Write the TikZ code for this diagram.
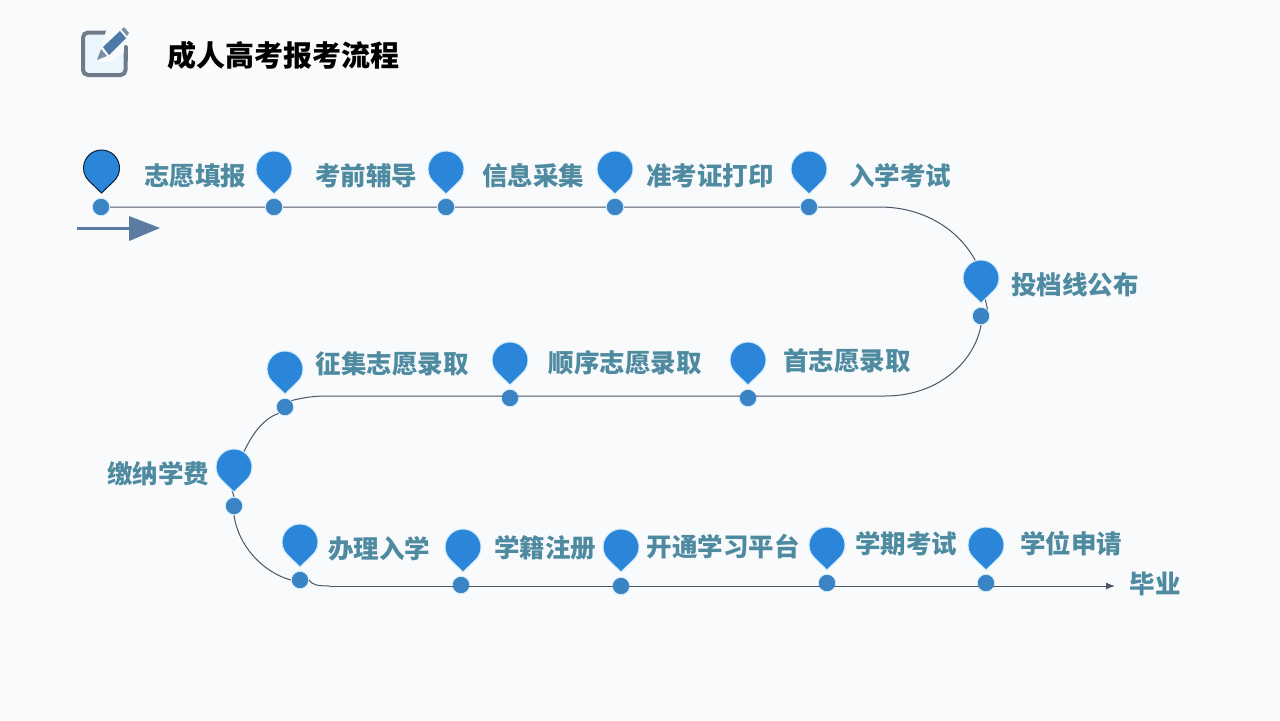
\documentclass[tikz,border=0pt]{standalone}
\usepackage{fontspec}
\usetikzlibrary{arrows.meta}
\newfontfamily\cjk{Noto Sans CJK SC}
\definecolor{bgc}{HTML}{F9FAFC}
\definecolor{pinc}{HTML}{2B86D9}
\definecolor{dotc}{HTML}{3A84C6}
\definecolor{halo}{HTML}{CFEBFA}
\definecolor{linec}{HTML}{4A5663}
\definecolor{labc}{HTML}{4F8BA0}
\definecolor{iconc}{HTML}{6F7B8A}
\definecolor{iconbg}{HTML}{EAF5FC}
\definecolor{penc}{HTML}{4D79A8}
\definecolor{peng}{HTML}{7D8FA5}
\definecolor{arrc}{HTML}{5C7BA1}
\tikzset{
  dotnode/.style={circle,fill=dotc,draw=halo,line width=0.5pt,inner sep=0pt,minimum size=8.6pt},
  lab/.style={font=\cjk\bfseries\fontsize{12.75}{14}\selectfont,text=labc,inner sep=0pt},
  route/.style={draw=linec,line width=0.5pt},
  pics/pin/.style={code={
    \draw[fill=pinc,draw=halo,line width=0.5pt,#1] (0,25) -- (12.5,12.95)
      arc[start angle=46,end angle=-226,radius=18] -- cycle;}},
}
\begin{document}
\begin{tikzpicture}[x=0.5pt,y=-0.5pt]
\useasboundingbox (0,0) rectangle (1280,720);
\fill[bgc] (0,0) rectangle (1280,720);

% icon
\fill[iconbg] (84,33) rectangle (124,74);
\draw[iconc,line width=2pt,line cap=round,rounded corners=2.5pt] (111,32.5) -- (83,32.5) -- (83,75) -- (125.5,75) -- (125.5,48);
\fill[bgc] (108,25) -- (131,25) -- (131,46) -- (112,62) -- (96,62) -- cycle;
\draw[iconc,line width=2pt,line cap=round] (125.5,47) -- (125.5,60);
\fill[penc] (103,47) -- (120,31) -- (126,38) -- (109,55) -- cycle;
\fill[peng] (101,49) -- (107,56) -- (97,60) -- cycle;
\fill[peng] (121.5,29.5) -- (124,27) -- (129,33) -- (127,36) -- cycle;
\node[font=\cjk\bfseries\fontsize{14.5}{16}\selectfont,text=black,inner sep=0pt] (title) at (283,55) {成人高考报考流程};

% start arrow
\coordinate (as) at (77,228);
\coordinate (ae) at (130,228);
\draw[arrc,line width=1.5pt] (as) -- (ae);
\fill[arrc] (129,216) -- (160,228) -- (129,241) -- cycle;

% dots
\node[dotnode] (d1) at (101,207) {};
\node[dotnode] (d2) at (274,207) {};
\node[dotnode] (d3) at (446,207) {};
\node[dotnode] (d4) at (615,207) {};
\node[dotnode] (d5) at (809,207) {};
\node[dotnode] (d6) at (981,316) {};
\node[dotnode] (d7) at (748,398) {};
\node[dotnode] (d8) at (510,398) {};
\node[dotnode] (d9) at (285,407) {};
\node[dotnode] (d10) at (234,506) {};
\node[dotnode] (d11) at (300,580) {};
\node[dotnode] (d12) at (461,585) {};
\node[dotnode] (d13) at (621,586) {};
\node[dotnode] (d14) at (827,583) {};
\node[dotnode] (d15) at (986,583) {};
\coordinate (endp) at (1115,586);
\coordinate (c1) at (880,207);
\coordinate (c2) at (985.5,300);
\coordinate (c3) at (885,396);
\coordinate (c4) at (325,396);
\coordinate (c5) at (232,490);
\coordinate (c6) at (330,586);

% route
\begin{scope}
\path[route] (d1) -- (d2) -- (d3) -- (d4) -- (d5) -- (c1) .. controls (940,207) and (985,250) .. (c2) -- (d6.north east);
\path[route] (d6.south) .. controls (975,360) and (940,396) .. (c3) -- (c4);
\path[route] (d9.north east) .. controls (298,399) and (310,396) .. (c4);
\path[route] (d9.south west) .. controls (258,420) and (240,450) .. (c5) -- (d10.north);
\path[route] (d10.south) .. controls (238,545) and (262,572) .. (d11.west);
\path[route] (d11.east) .. controls (312,585) and (318,586) .. (c6);
\path[route,-{Latex[length=4.5pt,width=3.5pt]}] (c6) -- (endp);
\end{scope}

% dots redrawn above the route
\foreach \n in {d1,d2,d3,d4,d5,d6,d7,d8,d9,d10,d11,d12,d13,d14,d15}
  \fill[dotc] (\n) circle[radius=8];

% pins
\pic at (101.5,168) {pin={draw=black!75!pinc}};
\pic at (274,169) {pin};
\pic at (446,169) {pin};
\pic at (615,169) {pin};
\pic at (809,169) {pin};
\pic at (981,278) {pin};
\pic at (748,360) {pin};
\pic at (510,360) {pin};
\pic at (285,369) {pin};
\pic at (234,467) {pin};
\pic at (300,542) {pin};
\pic at (463,547) {pin};
\pic at (621,547) {pin};
\pic at (827,545) {pin};
\pic at (986,545) {pin};

% labels
\node[lab] (l1) at (195,176) {志愿填报};
\node[lab] (l2) at (366,176) {考前辅导};
\node[lab] (l3) at (533,176) {信息采集};
\node[lab] (l4) at (710,176) {准考证打印};
\node[lab] (l5) at (900,176) {入学考试};
\node[lab] (l6) at (1075,285) {投档线公布};
\node[lab] (l7) at (847,361) {首志愿录取};
\node[lab] (l8) at (625,363) {顺序志愿录取};
\node[lab] (l9) at (392,364) {征集志愿录取};
\node[lab] (l10) at (158,474) {缴纳学费};
\node[lab] (l11) at (379,549) {办理入学};
\node[lab] (l12) at (545,548) {学籍注册};
\node[lab] (l13) at (723,547) {开通学习平台};
\node[lab] (l14) at (906,544) {学期考试};
\node[lab] (l15) at (1071,544) {学位申请};
\node[lab] (l16) at (1155,584) {毕业};
\end{tikzpicture}
\end{document}
